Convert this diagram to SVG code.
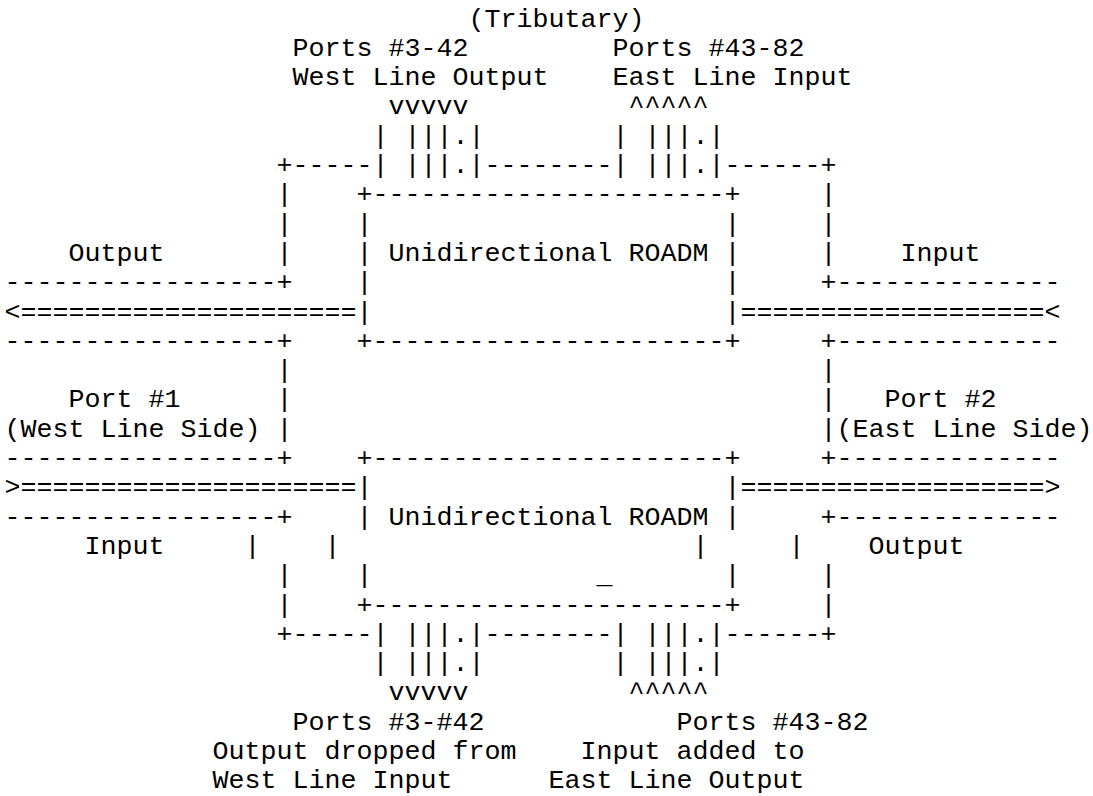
<svg xmlns="http://www.w3.org/2000/svg" width="1093" height="796" viewBox="0 0 1093 796">
<style>
text{font-family:"Liberation Mono","Courier New",monospace;font-size:26.67px;fill:#000;white-space:pre}
</style>
<rect width="1093" height="796" fill="#fff"/>
<g id="labels">
<text x="468.5" y="26.5">(Tributary)</text>
<text x="292.5" y="55.8">Ports #3-42</text>
<text x="612.5" y="55.8">Ports #43-82</text>
<text x="292.5" y="85.1">West Line Output</text>
<text x="612.5" y="85.1">East Line Input</text>
<text x="68.5" y="260.9">Output</text>
<text x="900.5" y="260.9">Input</text>
<text x="68.5" y="407.4">Port #1</text>
<text x="884.5" y="407.4">Port #2</text>
<text x="4.5" y="436.7">(West Line Side)</text>
<text x="836.5" y="436.7">(East Line Side)</text>
<text x="84.5" y="553.9">Input</text>
<text x="868.5" y="553.9">Output</text>
<text x="292.5" y="729.7">Ports #3-#42</text>
<text x="676.5" y="729.7">Ports #43-82</text>
<text x="212.5" y="759">Output dropped from</text>
<text x="580.5" y="759">Input added to</text>
<text x="212.5" y="788.3">West Line Input</text>
<text x="548.5" y="788.3">East Line Output</text>
</g>
<g id="roadm-top">
<text x="356.5" y="202.3">+----------------------+</text>
<text x="356.5" y="231.6">|</text><text x="724.5" y="231.6">|</text>
<text x="356.5" y="260.9">| Unidirectional ROADM |</text>
<text x="356.5" y="290.2">|</text><text x="724.5" y="290.2">|</text>
<text x="356.5" y="319.5">|</text><text x="724.5" y="319.5">|</text>
<text x="356.5" y="348.8">+----------------------+</text>
</g>
<g id="roadm-bottom">
<text x="356.5" y="466">+----------------------+</text>
<text x="356.5" y="495.3">|</text><text x="724.5" y="495.3">|</text>
<text x="356.5" y="524.6">| Unidirectional ROADM |</text>
<text x="356.5" y="583.2">|</text><text x="596.5" y="583.2">_</text><text x="724.5" y="583.2">|</text>
<text x="356.5" y="612.5">+----------------------+</text>
</g>
<g id="tributary-west-top">
<text x="388.5" y="114.4">vvvvv</text>
<text x="372.5" y="143.7">| |||.|</text>
<text x="372.5" y="173">| |||.|</text>
</g>
<g id="tributary-east-top">
<text x="628.5" y="114.4">^^^^^</text>
<text x="612.5" y="143.7">| |||.|</text>
<text x="612.5" y="173">| |||.|</text>
</g>
<g id="tributary-west-bottom">
<text x="372.5" y="641.8">| |||.|</text>
<text x="372.5" y="671.1">| |||.|</text>
<text x="388.5" y="700.4">vvvvv</text>
</g>
<g id="tributary-east-bottom">
<text x="612.5" y="641.8">| |||.|</text>
<text x="612.5" y="671.1">| |||.|</text>
<text x="628.5" y="700.4">^^^^^</text>
</g>
<g id="connectors">
<text x="276.5" y="173">+-----</text>
<text x="484.5" y="173">--------</text>
<text x="724.5" y="173">------+</text>
<text x="276.5" y="202.3">|</text><text x="820.5" y="202.3">|</text>
<text x="276.5" y="231.6">|</text><text x="820.5" y="231.6">|</text>
<text x="276.5" y="260.9">|</text><text x="820.5" y="260.9">|</text>
<text x="4.5" y="290.2">-----------------+</text>
<text x="820.5" y="290.2">+--------------</text>
<text x="4.5" y="319.5">&lt;=====================</text>
<text x="740.5" y="319.5">===================&lt;</text>
<text x="4.5" y="348.8">-----------------+</text>
<text x="820.5" y="348.8">+--------------</text>
<text x="276.5" y="378.1">|</text><text x="820.5" y="378.1">|</text>
<text x="276.5" y="407.4">|</text><text x="820.5" y="407.4">|</text>
<text x="276.5" y="436.7">|</text><text x="820.5" y="436.7">|</text>
<text x="4.5" y="466">-----------------+</text>
<text x="820.5" y="466">+--------------</text>
<text x="4.5" y="495.3">&gt;=====================</text>
<text x="740.5" y="495.3">===================&gt;</text>
<text x="4.5" y="524.6">-----------------+</text>
<text x="820.5" y="524.6">+--------------</text>
<text x="244.5" y="553.9">|</text><text x="324.5" y="553.9">|</text>
<text x="692.5" y="553.9">|</text><text x="788.5" y="553.9">|</text>
<text x="276.5" y="583.2">|</text><text x="820.5" y="583.2">|</text>
<text x="276.5" y="612.5">|</text><text x="820.5" y="612.5">|</text>
<text x="276.5" y="641.8">+-----</text>
<text x="484.5" y="641.8">--------</text>
<text x="724.5" y="641.8">------+</text>
</g>
</svg>
